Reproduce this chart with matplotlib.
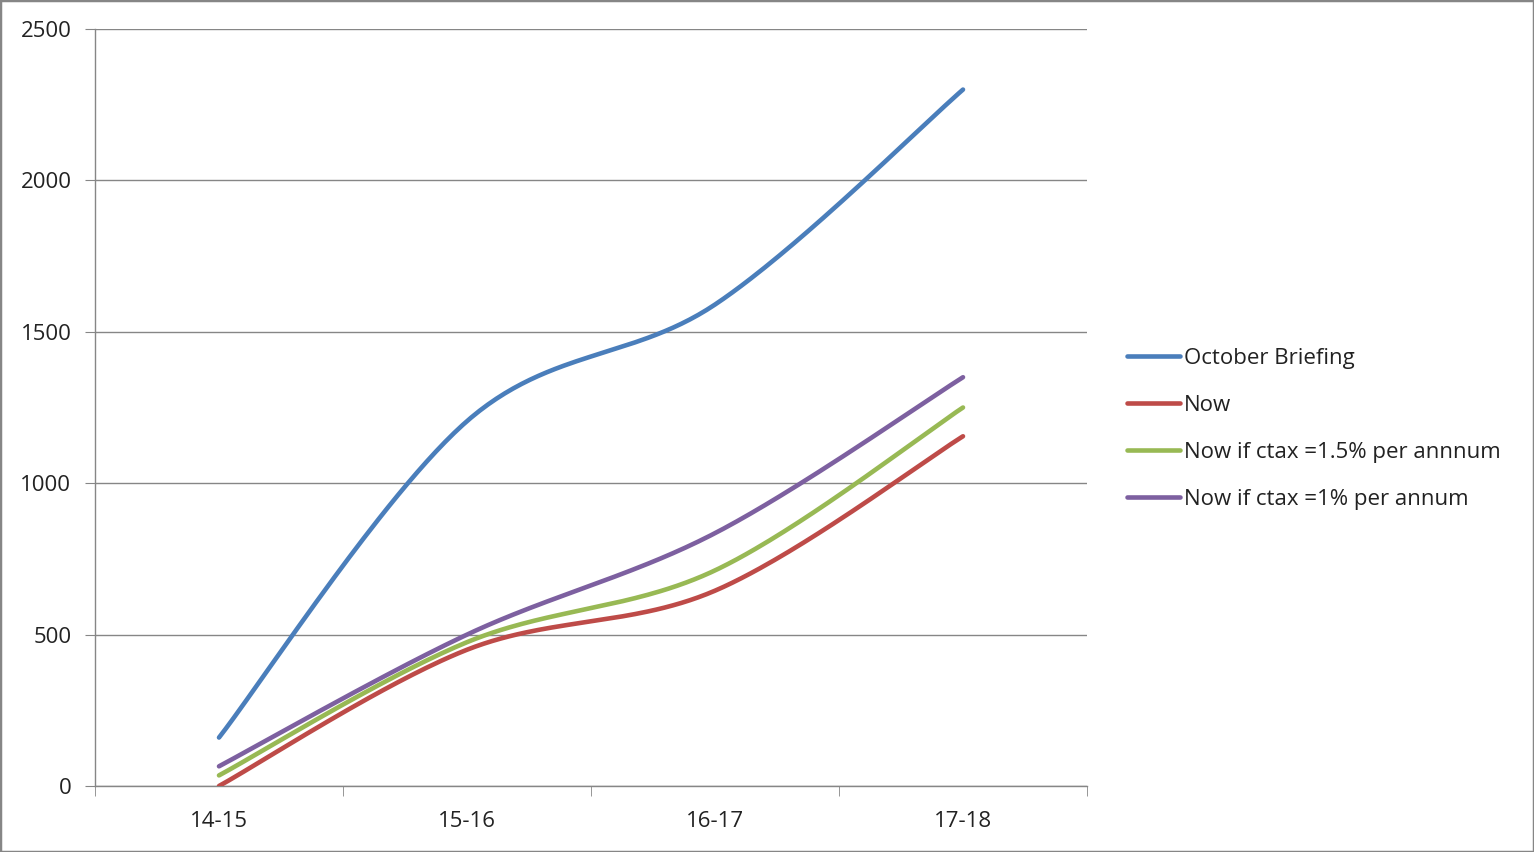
import numpy as np
import matplotlib
matplotlib.use("Agg")
import matplotlib.pyplot as plt
from matplotlib.patches import Rectangle

categories = ["14-15", "15-16", "16-17", "17-18"]
october_briefing = [160, 1205, 1590, 2300]
now = [0, 450, 645, 1155]
now_ctax_15 = [35, 475, 712, 1250]
now_ctax_1 = [65, 500, 835, 1350]

series = [
    ("October Briefing", october_briefing, "#4A7EBB"),
    ("Now", now, "#BE4B48"),
    ("Now if ctax =1.5% per annnum", now_ctax_15, "#98B954"),
    ("Now if ctax =1% per annum", now_ctax_1, "#7D60A0"),
]
yticks = [0, 500, 1000, 1500, 2000, 2500]


def smooth(xs, ys, n=60):
    """Excel-like smoothed line: cubic Bezier with Catmull-Rom control points."""
    xs = np.asarray(xs, float)
    ys = np.asarray(ys, float)
    px, py = [], []
    m = len(xs)
    for i in range(m - 1):
        x0, y0 = (xs[i - 1], ys[i - 1]) if i > 0 else (xs[i], ys[i])
        x1, y1 = xs[i], ys[i]
        x2, y2 = xs[i + 1], ys[i + 1]
        x3, y3 = (xs[i + 2], ys[i + 2]) if i + 2 < m else (xs[i + 1], ys[i + 1])
        c1x, c1y = x1 + (x2 - x0) / 6, y1 + (y2 - y0) / 6
        c2x, c2y = x2 - (x3 - x1) / 6, y2 - (y3 - y1) / 6
        t = np.linspace(0, 1, n)
        bx = (1 - t) ** 3 * x1 + 3 * (1 - t) ** 2 * t * c1x + 3 * (1 - t) * t ** 2 * c2x + t ** 3 * x2
        by = (1 - t) ** 3 * y1 + 3 * (1 - t) ** 2 * t * c1y + 3 * (1 - t) * t ** 2 * c2y + t ** 3 * y2
        px.extend(bx)
        py.extend(by)
    return np.array(px), np.array(py)


plt.rcParams['font.family'] = ['Open Sans', 'DejaVu Sans']

fig = plt.figure(figsize=(15.34, 8.52), dpi=100)
fig.patch.set_facecolor("white")
ax = fig.add_axes([95 / 1534, 66 / 852, (1087 - 95) / 1534, (786 - 29) / 852])

x = np.arange(len(categories))
for label, vals, color in series:
    sx, sy = smooth(x, vals)
    ax.plot(sx, sy, color=color, lw=3.3, solid_capstyle="round", label=label, zorder=3)

ax.set_xlim(-0.5, len(categories) - 0.5)
ax.set_ylim(0, 2500)
ax.set_yticks(yticks)
ax.set_yticklabels([str(v) for v in yticks])
ax.set_xticks(x)
ax.set_xticklabels(categories)
ax.set_xticks(np.arange(-0.5, len(categories)), minor=True)

ax.grid(axis="y", color="#868686", lw=1.0, zorder=1)
for s in ["top", "right"]:
    ax.spines[s].set_visible(False)
for s in ["left", "bottom"]:
    ax.spines[s].set_color("#868686")
    ax.spines[s].set_linewidth(1.0)

ax.tick_params(axis="y", which="major", length=7, color="#868686", labelsize=16, pad=10,
               labelcolor="#222222")
ax.tick_params(axis="x", which="major", length=0, labelsize=16, pad=18, labelcolor="#222222")
ax.tick_params(axis="x", which="minor", length=7, color="#868686", direction="out")

leg = fig.legend(loc="center left", bbox_to_anchor=(1127 / 1534, 0.497), frameon=False,
                 fontsize=16, handlelength=2.4, handletextpad=0.15, labelspacing=1.17,
                 borderaxespad=0, borderpad=0)
for t in leg.get_texts():
    t.set_color("#222222")
for h in leg.get_lines():
    h.set_linewidth(3.3)

fig.patches.append(Rectangle((0, 0), 1, 1, transform=fig.transFigure, fill=False,
                             edgecolor="#868686", lw=2.5))

fig.savefig("out.png", dpi=100, facecolor="white")
